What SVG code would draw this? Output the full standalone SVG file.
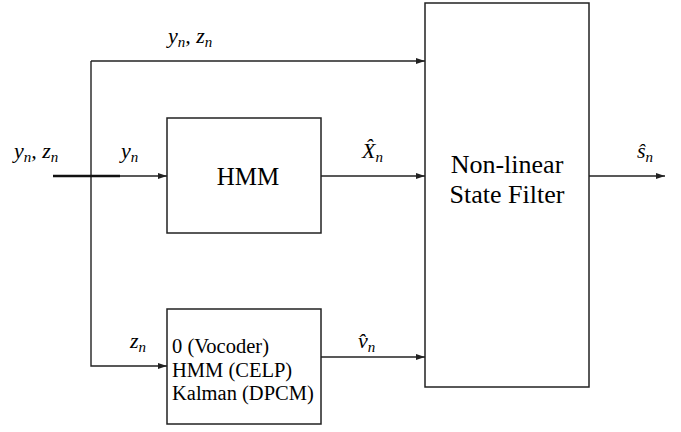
<svg xmlns="http://www.w3.org/2000/svg" width="681" height="432" viewBox="0 0 681 432">
<defs>
<marker id="a" markerWidth="10" markerHeight="8" refX="9" refY="4" orient="auto" markerUnits="userSpaceOnUse">
<path d="M0,1 L9,4 L0,7 Z" fill="#222"/>
</marker>
</defs>
<rect width="681" height="432" fill="#fff"/>
<g id="connectors" fill="none" stroke="#222" stroke-width="1.4">
<path d="M91,61 H425" marker-end="url(#a)"/>
<path d="M91,61 V366 H167" marker-end="url(#a)"/>
<path d="M53,176 H167" marker-end="url(#a)"/>
<path d="M53,176 H120" stroke="#111" stroke-width="2.5"/>
<path d="M321,176 H425" marker-end="url(#a)"/>
<path d="M321,357 H425" marker-end="url(#a)"/>
<path d="M589,176 H665" marker-end="url(#a)"/>
</g>
<g id="hmm">
<rect x="167" y="118" width="154" height="115" fill="#fff" stroke="#222" stroke-width="1.5"/>
<text font-family="Liberation Serif, Times New Roman, serif" x="248" y="185" font-size="25" text-anchor="middle">HMM</text>
</g>
<g id="excitation">
<rect x="167" y="309" width="154" height="115" fill="#fff" stroke="#222" stroke-width="1.5"/>
<text font-family="Liberation Serif, Times New Roman, serif" x="172" y="353" font-size="20.5">0 (Vocoder)</text>
<text font-family="Liberation Serif, Times New Roman, serif" x="172" y="377" font-size="20.5">HMM (CELP)</text>
<text font-family="Liberation Serif, Times New Roman, serif" x="172" y="400" font-size="20.5">Kalman (DPCM)</text>
</g>
<g id="filter">
<rect x="425" y="3" width="164" height="384" fill="#fff" stroke="#222" stroke-width="1.5"/>
<text font-family="Liberation Serif, Times New Roman, serif" x="507" y="173" font-size="26" text-anchor="middle">Non-linear</text>
<text font-family="Liberation Serif, Times New Roman, serif" x="507" y="203" font-size="26" text-anchor="middle">State Filter</text>
</g>
<g id="labels">
<text font-family="Liberation Serif, Times New Roman, serif" font-style="italic" font-size="22" x="168" y="43">y<tspan font-size="15" dy="4">n</tspan><tspan dy="-4">, z</tspan><tspan font-size="15" dy="4">n</tspan></text>
<text font-family="Liberation Serif, Times New Roman, serif" font-style="italic" font-size="22" x="14" y="158">y<tspan font-size="15" dy="4">n</tspan><tspan dy="-4">, z</tspan><tspan font-size="15" dy="4">n</tspan></text>
<text font-family="Liberation Serif, Times New Roman, serif" font-style="italic" font-size="22" x="121" y="158">y<tspan font-size="15" dy="4">n</tspan></text>
<text font-family="Liberation Serif, Times New Roman, serif" font-style="italic" font-size="22" x="362" y="158">X̂<tspan font-size="15" dy="4">n</tspan></text>
<text font-family="Liberation Serif, Times New Roman, serif" font-style="italic" font-size="22" x="130" y="348">z<tspan font-size="15" dy="4">n</tspan></text>
<text font-family="Liberation Serif, Times New Roman, serif" font-style="italic" font-size="22" x="358" y="348">v̂<tspan font-size="15" dy="4">n</tspan></text>
<text font-family="Liberation Serif, Times New Roman, serif" font-style="italic" font-size="22" x="637" y="158">ŝ<tspan font-size="15" dy="4">n</tspan></text>
</g>
</svg>
